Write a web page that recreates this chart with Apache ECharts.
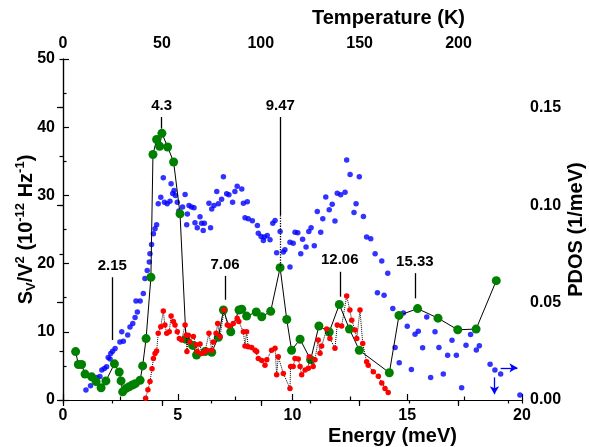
<!DOCTYPE html>
<html>
<head>
<meta charset="utf-8">
<script src="https://cdn.jsdelivr.net/npm/echarts@6/dist/echarts.min.js"></script>
<style>
  html, body { margin: 0; padding: 0; background: #fff; }
  #chart { width: 589px; height: 447px; }
</style>
</head>
<body>
<div id="chart"></div>
<script>
// noise spectrum, sample 1 (green, solid line)
const greenEnergy = [0.55, 0.67, 0.81, 0.96, 1.25, 1.44, 1.66, 1.87, 2.24, 2.45, 2.53, 2.60, 2.75, 2.88, 3.02, 3.15, 3.36, 3.47, 3.62, 3.83,
  3.92, 4.08, 4.21, 4.31, 4.56, 4.82, 5.10, 5.36, 5.65, 5.82, 6.19, 6.48, 6.77, 6.99, 7.31, 7.67, 7.79, 8.00, 8.42, 8.66,
  9.05, 9.46, 9.75, 9.96, 10.33, 10.79, 11.15, 11.60, 12.04, 12.48, 12.91, 14.22, 14.64, 15.45, 16.34, 17.20, 18.00, 18.88];
const greenSv = [7.1, 5.2, 5.2, 3.8, 3.4, 2.7, 1.8, 2.8, 5.3, 4.1, 2.8, 1.2, 1.7, 1.95, 2.2, 2.4, 2.9, 5.0, 9.0, 18.0,
  36.0, 38.2, 37.2, 39.1, 37.1, 34.9, 27.3, 8.9, 8.0, 6.6, 7.1, 7.0, 9.2, 13.2, 10.0, 13.2, 13.3, 12.3, 12.9, 12.2,
  13.0, 19.4, 11.8, 7.3, 8.9, 5.9, 10.85, 9.97, 14.0, 10.4, 7.3, 4.0, 12.4, 13.4, 12.0, 10.3, 10.4, 17.5];

// noise spectrum, sample 2 (red, dotted line)
const redEnergy = [3.60, 3.70, 3.79, 3.88, 3.94, 4.01, 4.08, 4.15, 4.26, 4.37, 4.44, 4.52, 4.63, 4.71, 4.81, 4.88, 4.98, 5.07, 5.17, 5.32,
  5.37, 5.40, 5.46, 5.53, 5.68, 5.80, 5.85, 5.97, 6.04, 6.19, 6.26, 6.36, 6.48, 6.55, 6.67, 6.74, 6.84, 7.02, 7.16, 7.25,
  7.42, 7.59, 7.66, 7.86, 7.93, 8.00, 8.07, 8.22, 8.37, 8.44, 8.51, 8.66, 8.80, 8.88, 9.09, 9.24, 9.31, 9.38, 9.60, 9.89,
  9.92, 10.03, 10.11, 10.25, 10.33, 10.40, 10.55, 10.69, 10.73, 10.90, 10.98, 11.12, 11.20, 11.27, 11.49, 11.63, 11.85, 11.95, 12.14, 12.36,
  12.50, 12.58, 12.73, 12.80, 12.94, 13.06, 13.23, 13.30, 13.52, 13.74, 13.89, 14.03, 14.17];
const redSv = [0.25, 1.5, 2.7, 4.6, 6.1, 6.8, 7.2, 9.8, 10.75, 13.05, 11.0, 9.8, 10.0, 12.3, 11.5, 11.0, 10.0, 9.0, 8.8, 11.0,
  9.5, 7.1, 9.5, 8.5, 9.3, 8.1, 7.1, 8.2, 6.8, 7.1, 7.3, 9.8, 7.3, 8.5, 9.8, 11.2, 9.3, 13.2, 11.0, 10.85,
  11.2, 12.0, 11.5, 10.0, 7.9, 10.0, 7.8, 7.7, 7.3, 7.1, 6.1, 5.8, 5.1, 5.9, 7.3, 7.6, 3.7, 6.35, 3.9, 1.7,
  4.9, 4.9, 6.1, 6.0, 4.9, 3.7, 4.4, 4.65, 6.35, 4.9, 5.9, 8.8, 6.85, 7.9, 10.4, 9.0, 7.6, 11.0, 10.85, 15.25,
  13.2, 11.7, 10.25, 9.0, 13.2, 8.3, 5.6, 5.1, 4.15, 3.5, 2.5, 1.7, 1.1];

// phonon density of states (blue, right axis)
const pdosEnergy = [1.00, 1.20, 1.39, 1.47, 1.61, 1.69, 1.80, 1.90, 1.97, 2.05, 2.08, 2.16, 2.27, 2.48, 2.56, 2.63, 2.82, 2.92, 3.04, 3.14,
  3.18, 3.24, 3.36, 3.50, 3.57, 3.67, 3.76, 3.79, 3.86, 3.94, 4.01, 4.08, 4.15, 4.26, 4.37, 4.42, 4.54, 4.66, 4.71, 4.78,
  4.84, 4.90, 4.98, 5.05, 5.21, 5.32, 5.39, 5.42, 5.49, 5.60, 5.71, 5.75, 5.85, 5.97, 6.04, 6.11, 6.16, 6.36, 6.43, 6.48,
  6.58, 6.70, 6.77, 6.91, 6.99, 7.13, 7.23, 7.39, 7.49, 7.59, 7.79, 7.86, 7.93, 8.03, 8.07, 8.25, 8.47, 8.51, 8.63, 8.73,
  8.77, 8.90, 9.02, 9.14, 9.24, 9.31, 9.46, 9.60, 9.67, 9.89, 9.89, 10.03, 10.11, 10.23, 10.36, 10.44, 10.59, 10.71, 10.81, 10.95,
  11.08, 11.23, 11.32, 11.45, 11.60, 11.73, 11.85, 11.95, 12.10, 12.29, 12.36, 12.51, 12.68, 12.77, 12.91, 13.09, 13.23, 13.41, 13.60, 13.70,
  13.89, 13.99, 14.15, 14.37, 14.47, 14.65, 14.83, 15.00, 15.18, 15.34, 15.48, 15.67, 15.85, 16.02, 16.21, 16.38, 16.57, 16.76, 16.95, 17.14,
  17.37, 17.56, 17.76, 18.01, 18.14, 18.61, 18.82, 19.07, 19.91];
const pdos = [0.0051, 0.0073, 0.0094, 0.0116, 0.0120, 0.0154, 0.0162, 0.0170, 0.0218, 0.0210, 0.0239, 0.0250, 0.0264, 0.0298, 0.0350, 0.0302, 0.0333, 0.0375, 0.0392, 0.0423,
  0.0508, 0.0452, 0.0508, 0.0546, 0.0623, 0.0665, 0.0708, 0.0750, 0.0798, 0.0853, 0.0879, 0.0900, 0.1007, 0.1040, 0.1140, 0.1015, 0.1007, 0.1020, 0.1110, 0.1060,
  0.1075, 0.1050, 0.1015, 0.0970, 0.0990, 0.1054, 0.0899, 0.0955, 0.0998, 0.0990, 0.0986, 0.0910, 0.0884, 0.0940, 0.0907, 0.0870, 0.0907, 0.1010, 0.0884, 0.0980,
  0.0998, 0.1070, 0.1007, 0.1030, 0.1146, 0.1058, 0.1053, 0.1015, 0.1070, 0.1097, 0.1083, 0.1010, 0.0935, 0.1018, 0.0930, 0.0920, 0.0896, 0.0856, 0.0839, 0.0819,
  0.0836, 0.0844, 0.0822, 0.0907, 0.0921, 0.0756, 0.0865, 0.0759, 0.0771, 0.0682, 0.0810, 0.0805, 0.0861, 0.0858, 0.0750, 0.0825, 0.0785, 0.0865, 0.0884, 0.0792,
  0.0967, 0.0861, 0.0930, 0.1042, 0.0976, 0.1005, 0.0918, 0.1061, 0.1053, 0.1066, 0.1232, 0.1157, 0.0962, 0.1007, 0.1146, 0.0942, 0.0836, 0.0828, 0.0750, 0.0551,
  0.0713, 0.0537, 0.0651, 0.0469, 0.0270, 0.0191, 0.0447, 0.0379, 0.0157, 0.0338, 0.0353, 0.0268, 0.0426, 0.0116, 0.0350, 0.0270, 0.0133, 0.0230, 0.0307, 0.0230,
  0.0063, 0.0281, 0.0336, 0.0256, 0.0278, 0.0184, 0.0154, 0.0133, 0.0026];

// peak markers: energy, top and bottom of the stick (left axis units)
const peakLabels = ["2.15", "4.3", "7.06", "9.47", "12.06", "15.33"];
const peakTop = [18.0, 41.5, 18.2, 41.5, 18.8, 18.6];
const peakBottom = [8.8, 39.8, 14.7, 27.1, 15.15, 14.9];
const peakDotted = [null, null, null, 19.4, null, null];

// blue arrows (right axis units): [x0, y0, x1, y1]
const arrows = [[19.07, 0.0165, 19.80, 0.0165], [18.80, 0.0116, 18.80, 0.0030]];

const K_PER_MEV = 11.6045;
const font = "Liberation Sans, Arial, sans-serif";
const zip = (a, b) => a.map((v, i) => [v, b[i]]);

const peakLines = [];
peakLabels.forEach((lab, i) => {
  const e = parseFloat(lab);
  peakLines.push([
    { coord: [e, peakTop[i]], label: { show: true, formatter: lab } },
    { coord: [e, peakBottom[i]] }
  ]);
  if (peakDotted[i] != null) {
    peakLines.push([
      { coord: [e, peakBottom[i]], label: { show: false }, lineStyle: { type: "dotted" } },
      { coord: [e, peakDotted[i]] }
    ]);
  }
});

const chart = echarts.init(document.getElementById("chart"));

const tickLabel = { color: "#000", fontSize: 16, fontWeight: "bold", fontFamily: font };
const nameStyle = { color: "#000", fontSize: 20, fontWeight: "bold", fontFamily: font };
const axisLine = { show: true, lineStyle: { color: "#000", width: 1.2 } };

chart.setOption({
  animation: false,
  backgroundColor: "#fff",
  grid: { left: 63, right: 67, top: 59, bottom: 47, outerBoundsMode: "none", containLabel: false },
  xAxis: [
    {
      type: "value", min: 0, max: 20, interval: 5, position: "bottom",
      name: "Energy (meV)", nameLocation: "middle", nameGap: 26, nameMoveOverlap: false,
      nameTextStyle: Object.assign({ padding: [0, 0, 0, 200] }, nameStyle),
      axisLine: axisLine,
      axisTick: { inside: true, length: 6, lineStyle: { color: "#000", width: 1.2 } },
      minorTick: { show: true, splitNumber: 2, length: 3.5, lineStyle: { color: "#000", width: 1.2 } },
      axisLabel: Object.assign({ margin: 8 }, tickLabel),
      splitLine: { show: false }
    },
    {
      type: "value", min: 0, max: 20 * K_PER_MEV, interval: 50, position: "top",
      name: "Temperature (K)", nameLocation: "middle", nameGap: 31, nameMoveOverlap: false,
      nameTextStyle: Object.assign({ padding: [0, 0, 0, 192] }, nameStyle),
      axisLine: axisLine,
      axisTick: { inside: true, length: 6, lineStyle: { color: "#000", width: 1.2 } },
      axisLabel: Object.assign({ margin: 7, showMaxLabel: false }, tickLabel),
      splitLine: { show: false }
    },
    {
      type: "value", min: 0, max: 20 * K_PER_MEV, interval: 25, position: "top",
      axisLine: { show: false },
      axisTick: { inside: true, length: 3.5, lineStyle: { color: "#000", width: 1.2 } },
      axisLabel: { show: false },
      splitLine: { show: false }
    }
  ],
  yAxis: [
    {
      type: "value", min: 0, max: 50, interval: 10, position: "left",
      name: "{a|S}{b|V}{a|/V}{c|2}{a| (10}{c|-12}{a| Hz}{c|-1}{a|)}",
      nameLocation: "middle", nameGap: 24, nameMoveOverlap: false,
      nameTextStyle: {
        rich: {
          a: { fontSize: 20, fontWeight: "bold", fontFamily: font, color: "#000", lineHeight: 26, verticalAlign: "middle" },
          b: { fontSize: 13, fontWeight: "bold", fontFamily: font, color: "#000", lineHeight: 26, verticalAlign: "bottom", padding: [0, 0, 1, 0] },
          c: { fontSize: 13, fontWeight: "bold", fontFamily: font, color: "#000", lineHeight: 26, verticalAlign: "top", padding: [1, 0, 0, 0] }
        }
      },
      axisLine: axisLine,
      axisTick: { inside: true, length: 6, lineStyle: { color: "#000", width: 1.2 } },
      minorTick: { show: true, splitNumber: 2, length: 3.5, lineStyle: { color: "#000", width: 1.2 } },
      axisLabel: Object.assign({ margin: 8 }, tickLabel),
      splitLine: { show: false }
    },
    {
      type: "value", min: 0, max: 0.175, interval: 0.05, position: "right",
      name: "PDOS (1/meV)", nameLocation: "middle", nameGap: 44, nameMoveOverlap: false,
      nameTextStyle: nameStyle,
      axisLine: axisLine,
      axisTick: { inside: true, length: 6, lineStyle: { color: "#000", width: 1.2 } },
      axisLabel: Object.assign({ margin: 8, showMaxLabel: false, formatter: v => v.toFixed(2) }, tickLabel),
      splitLine: { show: false }
    },
    {
      type: "value", min: 0, max: 0.175, interval: 0.025, position: "right",
      axisLine: { show: false },
      axisTick: { inside: true, length: 3.5, lineStyle: { color: "#000", width: 1.2 } },
      axisLabel: { show: false },
      splitLine: { show: false }
    }
  ],
  series: [
    {
      name: "PDOS", type: "scatter", xAxisIndex: 0, yAxisIndex: 1,
      data: zip(pdosEnergy, pdos),
      symbol: "circle", symbolSize: 5.5,
      itemStyle: { color: "#0000ff" },
      z: 2,
      markLine: {
        silent: true, symbol: ["none", "arrow"], symbolSize: [7, 8],
        lineStyle: { color: "#0000ff", type: "solid", width: 1.3 },
        label: { show: false },
        data: arrows.map(a => [{ coord: [a[0], a[1]] }, { coord: [a[2], a[3]] }])
      }
    },
    {
      name: "sample 1", type: "line", xAxisIndex: 0, yAxisIndex: 0,
      data: zip(greenEnergy, greenSv),
      symbol: "circle", symbolSize: 9, showAllSymbol: true,
      itemStyle: { color: "#008000" },
      lineStyle: { color: "#000", width: 1 },
      z: 3,
      markLine: {
        silent: true, symbol: ["none", "none"],
        lineStyle: { color: "#000", type: "solid", width: 1.3 },
        label: { position: "start", distance: 4, color: "#000", fontSize: 15, fontWeight: "bold", fontFamily: font },
        data: peakLines
      }
    },
    {
      name: "sample 2", type: "line", xAxisIndex: 0, yAxisIndex: 0,
      data: zip(redEnergy, redSv),
      symbol: "circle", symbolSize: 5.5, showAllSymbol: true,
      itemStyle: { color: "#ff0000" },
      lineStyle: { color: "#000", width: 1, type: "dotted" },
      z: 4
    }
  ]
});
</script>
</body>
</html>
